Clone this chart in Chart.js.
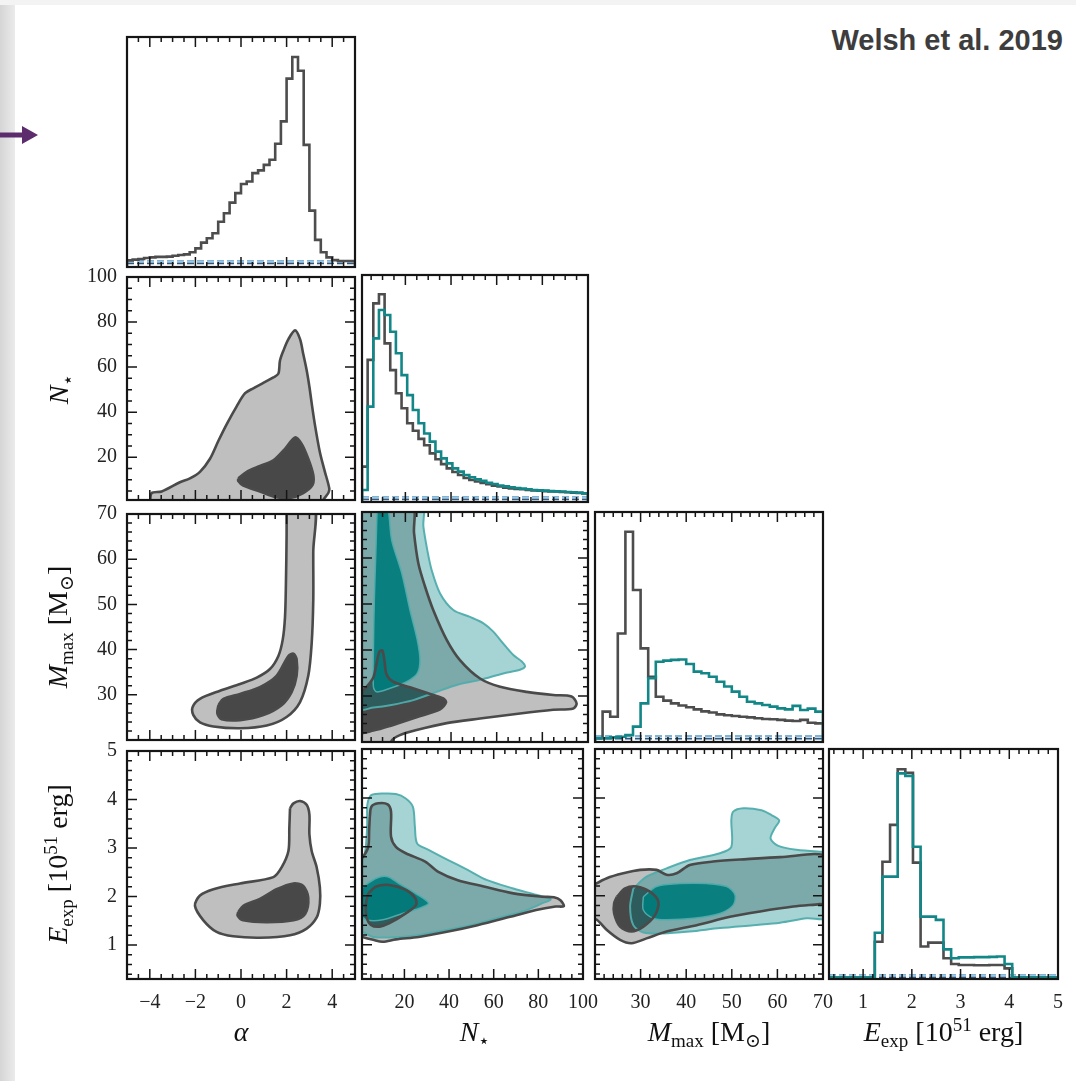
<!DOCTYPE html>
<html>
<head>
<meta charset="utf-8">
<title>Welsh et al. 2019 corner plot</title>
<script src="https://cdn.jsdelivr.net/npm/chart.js@4.4.1/dist/chart.umd.min.js"></script>
<style>
  html, body { margin:0; padding:0; background:#fff; }
  #page { position:relative; width:1076px; height:1081px; overflow:hidden; background:#fff; }
  #stripL { position:absolute; left:0; top:0; width:15px; height:1081px; background:linear-gradient(to right,#d5d5d5,#ebebeb); }
  #stripT { position:absolute; left:0; top:0; width:1076px; height:5px; background:#f3f3f3; }
  canvas { position:absolute; }
  .ttl { position:absolute; font-family:'Liberation Serif','DejaVu Serif',serif; font-size:28px; line-height:36px; height:36px; color:#111; text-align:center; white-space:nowrap; }
  .ttl sub { font-size:0.68em; vertical-align:-0.32em; line-height:0; }
  .ttl sup { font-size:0.68em; vertical-align:0.55em; line-height:0; }
  #credit { position:absolute; right:13px; top:26px; font-family:'Liberation Sans',Arial,sans-serif; font-weight:bold; font-size:29px; line-height:29px; color:#3d3d3d; }
  #arrow { position:absolute; left:0; top:120px; }
</style>
</head>
<body>
<div id="page">
  <div id="stripL"></div>
  <div id="stripT"></div>
  <svg id="arrow" width="45" height="30"><path d="M0 12.5 H22 V6 L38 15 L22 24 V17.5 H0 Z" fill="#5c2c6d"/></svg>
  <div id="credit">Welsh et al. 2019</div>
</div>
<script>
// ---------------- axis ranges and tick labels ----------------
const alphaRange = [-5, 5];
const nstarRange = [1, 100];
const mmaxRange = [20, 70];
const eexpRange = [0.3, 5];
const histRange = [0, 100];

const alphaTicks = [-4, -2, 0, 2, 4];
const nstarTicks = [20, 40, 60, 80, 100];
const mmaxTicks = [30, 40, 50, 60, 70];
const eexpTicks = [1, 2, 3, 4, 5];
const alphaMinorStep = 0.5, nstarMinorStep = 5, mmaxMinorStep = 2, eexpMinorStep = 0.2;

// ---------------- 1D histograms (bin start, bin width, heights in % of panel) ----------------
const alphaBinStart = -5,  alphaBinWidth = 0.25;
const nstarBinStart = 1,   nstarBinWidth = 2.475;
const mmaxBinStart = 20,   mmaxBinWidth = 50 / 30;
const eexpBinStart = 0.3,  eexpBinWidth = 4.7 / 30;

const alphaHistGray = [2.9, 3.2, 3.5, 3.9, 4.2, 4.4, 4.4, 4.5, 4.9, 5.2, 5.5, 6.4, 8.1, 10.6, 12.5, 14.7, 19.7, 23.4, 28.0, 32.1, 36.1, 37.2, 40.8, 42.0, 44.4, 46.6, 53.6, 63.3, 81.9, 91.3, 85.3, 53.1, 24.5, 11.8, 6.4, 4.2, 3.0, 2.6, 2.6, 2.6];

const nstarHistGray = [15.6, 62.6, 87.5, 91.5, 69.9, 58.1, 47.9, 41.3, 34.7, 31.4, 27.8, 25.0, 21.4, 18.8, 16.7, 14.8, 13.2, 11.9, 10.6, 9.7, 9.0, 8.4, 7.8, 7.2, 6.8, 6.3, 6.0, 5.7, 5.6, 5.3, 5.1, 5.0, 4.8, 4.7, 4.6, 4.4, 4.3, 4.1, 4.0, 3.8];
const nstarHistTeal = [5.3, 42.0, 72.1, 84.6, 82.4, 75.0, 65.5, 55.9, 47.1, 40.5, 34.7, 30.2, 26.6, 22.2, 19.2, 17.0, 14.8, 13.4, 11.9, 10.9, 10.0, 9.3, 8.5, 7.9, 7.3, 6.9, 6.5, 6.2, 5.9, 5.6, 5.3, 5.1, 5.0, 4.8, 4.7, 4.6, 4.4, 4.3, 4.1, 3.8];

const mmaxHistGray = [1.6, 13.2, 11.0, 47.2, 91.4, 66.1, 40.7, 28.4, 19.7, 18.0, 16.8, 15.9, 15.1, 14.2, 13.3, 12.8, 12.0, 11.6, 11.3, 11.0, 10.7, 10.3, 10.0, 9.9, 9.6, 9.3, 9.1, 9.6, 8.4, 8.1];
const mmaxHistTeal = [1.6, 1.6, 2.0, 2.3, 3.0, 6.7, 16.8, 27.7, 34.9, 35.4, 35.7, 35.9, 33.9, 30.6, 29.9, 28.4, 26.2, 24.1, 21.9, 19.7, 17.5, 16.8, 16.1, 15.4, 14.6, 14.2, 15.7, 13.9, 14.5, 13.2];

const eexpHistGray = [0.6, 0.6, 0.6, 0.6, 0.6, 0.6, 16.2, 51.0, 67.0, 91.2, 89.7, 50.6, 14.1, 15.8, 15.8, 9.0, 6.5, 6.1, 6.1, 6.0, 6.0, 6.1, 6.1, 4.6, 0.6, 0.6, 0.6, 0.6, 0.6, 0.6];
const eexpHistTeal = [0.6, 0.6, 0.6, 0.6, 0.6, 0.6, 20.1, 44.5, 44.5, 89.4, 88.3, 57.5, 27.1, 27.1, 25.7, 12.9, 9.0, 9.4, 9.4, 9.5, 9.5, 9.6, 9.8, 6.5, 0.6, 0.6, 0.6, 0.6, 0.6, 0.6];

// flat prior levels (dashed lines in the diagonal panels)
const alphaPrior = 1.6, nstarPrior = 1.2, mmaxPrior = 1.5, eexpPrior = 0.7;

// ---------------- 2D credible contours [x, y] ----------------
const alphaNstarGrayOuter = [[-3.99,-1],[-3.92,4.1],[-3.48,4.8],[-2.68,8.9],[-2.24,10.6],[-1.80,13.5],[-1.36,19.3],[-0.99,27.3],[-0.63,34.6],[-0.19,42.6],[0.18,48.4],[0.54,50.6],[0.98,53.0],[1.42,55.4],[1.64,57.1],[1.71,62.9],[1.86,67.3],[2.08,72.4],[2.37,76.3],[2.59,72.4],[2.73,65.8],[2.88,58.6],[3.00,51.3],[3.10,44.0],[3.25,33.9],[3.46,22.2],[3.68,13.5],[3.87,6.2],[3.83,4.1],[3.61,1.1],[3.54,-1]];
const alphaNstarGrayInner = [[-0.12,10.6],[0.25,13.5],[0.83,16.1],[1.42,18.6],[1.93,23.7],[2.37,28.8],[2.66,25.9],[2.95,19.3],[3.17,12.1],[3.14,7.7],[2.73,4.1],[2.15,1.9],[1.56,2.2],[0.83,4.8],[0.10,7.4],[-0.12,9.4]];

const alphaMmaxGrayOuter = [[2.00,72.6],[2.00,65.4],[1.97,54.5],[1.93,47.2],[1.83,42.2],[1.64,38.6],[1.27,35.7],[0.69,33.8],[-0.04,32.4],[-0.92,30.9],[-1.80,29.1],[-2.12,27.3],[-2.09,25.5],[-1.80,23.9],[-1.21,23.0],[-0.04,22.6],[1.13,23.2],[2.00,25.1],[2.59,28.4],[2.95,34.2],[3.10,41.4],[3.17,50.9],[3.17,61.7],[3.20,72.6]];
const alphaMmaxGrayInner = [[-0.99,27.7],[-0.77,29.1],[-0.04,30.2],[0.83,31.7],[1.56,34.2],[2.08,38.6],[2.30,39.1],[2.44,37.8],[2.44,34.2],[2.22,30.6],[1.78,27.7],[0.98,25.5],[-0.04,24.4],[-0.85,24.6],[-1.04,25.9]];

const alphaEexpGrayOuter = [[2.15,3.82],[2.30,3.92],[2.59,3.97],[2.88,3.89],[3.00,3.69],[3.00,3.28],[3.10,2.94],[3.32,2.60],[3.46,2.19],[3.46,1.85],[3.32,1.57],[2.88,1.34],[2.15,1.20],[0.83,1.15],[-0.34,1.18],[-1.07,1.27],[-1.65,1.51],[-2.02,1.81],[-1.80,2.02],[-1.21,2.15],[-0.04,2.27],[1.42,2.40],[1.78,2.60],[2.08,2.94],[2.12,3.41]];
const alphaEexpGrayInner = [[-0.12,1.68],[0.10,1.81],[0.83,1.95],[1.56,2.15],[2.30,2.27],[2.73,2.22],[2.95,1.98],[2.81,1.64],[2.30,1.51],[1.13,1.47],[0.10,1.51],[-0.15,1.61]];

const nstarMmaxGrayOuter = [[0,72],[22.8,72],[23.8,65.4],[25.7,58.8],[28.6,53.8],[32.2,48.7],[38.1,42.2],[43.9,37.8],[52.7,33.8],[61.5,32.0],[73.1,30.9],[84.8,30.2],[92.8,29.9],[95.0,28.4],[93.6,27.3],[84.8,27.0],[70.2,26.2],[52.7,25.1],[38.1,24.1],[24.9,22.6],[17.6,21.5],[14.0,20.3],[13.3,18],[0,18]];
const nstarMmaxGrayInner = [[0,30.6],[3.0,32.0],[6.0,34.1],[7.4,37.1],[8.6,39.6],[9.9,39.9],[10.8,37.8],[11.8,34.6],[14.7,33.1],[22.0,31.9],[29.3,30.7],[36.6,29.5],[37.8,28.6],[35.2,27.1],[24.9,25.4],[13.3,23.5],[6.0,22.5],[0,22.2]];
const nstarMmaxTealOuter = [[0,72],[27.1,72],[27.9,66.8],[29.6,61.7],[31.5,57.4],[35.2,52.3],[41.0,48.7],[48.3,47.2],[54.2,45.8],[58.5,44.0],[62.9,41.4],[67.3,38.9],[71.0,37.5],[72.4,36.4],[70.2,35.7],[62.9,34.9],[52.7,33.5],[42.5,32.4],[33.7,30.9],[23.5,29.1],[13.3,28.0],[6.0,27.5],[0,27.3]];
const nstarMmaxTealInner = [[7.7,72],[11.8,72],[14.0,63.9],[18.4,56.7],[22.0,48.7],[25.2,42.2],[26.4,37.8],[25.2,34.9],[20.6,33.1],[13.3,31.7],[7.4,30.9],[6.0,32.0],[6.0,40.0],[6.4,50.9],[7.1,61.7]];

const nstarEexpGrayOuter = [[4.5,3.62],[5.2,3.82],[8.2,3.89],[12.5,3.87],[14.0,3.72],[14.0,3.21],[16.2,3.00],[20.6,2.87],[29.3,2.70],[35.2,2.49],[43.9,2.32],[55.6,2.19],[68.8,2.05],[81.9,1.98],[87.0,1.97],[89.9,1.91],[91.4,1.79],[87.7,1.78],[79.0,1.71],[67.3,1.57],[52.7,1.40],[39.6,1.27],[26.4,1.16],[16.2,1.11],[10.3,1.06],[6.0,1.10],[1.0,1.16],[0,1.18],[0,2.73],[1.6,2.80],[3.8,3.00],[4.2,3.34]];
const nstarEexpGrayInner = [[3.8,2.05],[7.4,2.19],[13.3,2.22],[20.6,2.12],[24.9,1.95],[25.2,1.81],[20.6,1.64],[13.3,1.44],[8.9,1.37],[5.2,1.40],[3.0,1.57],[2.8,1.85]];
const nstarEexpTealOuter = [[3.8,3.96],[5.2,4.06],[10.3,4.09],[16.2,4.08],[20.6,3.99],[23.8,3.82],[24.7,3.41],[25.7,3.07],[30.8,2.94],[39.6,2.73],[48.3,2.53],[57.1,2.32],[68.8,2.15],[79.0,2.02],[85.5,1.93],[81.9,1.85],[73.1,1.68],[61.5,1.54],[49.8,1.40],[35.2,1.27],[23.5,1.18],[13.3,1.15],[6.0,1.16],[1.0,1.27],[0,1.3],[0,2.6],[2.3,2.87],[3.3,3.41],[3.3,3.82]];
const nstarEexpTealInner = [[1.6,2.19],[7.4,2.36],[12.5,2.39],[17.6,2.25],[24.9,2.05],[30.8,1.85],[26.4,1.74],[19.1,1.64],[10.3,1.51],[3.0,1.51],[0,1.64],[0,2.12]];

const mmaxEexpGrayOuter = [[19,2.19],[22.6,2.36],[26.2,2.46],[29.9,2.53],[33.5,2.53],[35.7,2.43],[37.9,2.46],[40.8,2.63],[45.9,2.70],[53.3,2.75],[60.6,2.79],[71,2.79],[71,1.85],[69.3,1.83],[63.5,1.78],[56.2,1.68],[49.6,1.57],[42.3,1.40],[35.7,1.27],[31.3,1.13],[28.0,1.03],[25.5,1.10],[22.6,1.30],[20.4,1.51],[19,1.54]];
const mmaxEexpGrayInner = [[24.8,1.98],[26.6,2.15],[29.1,2.19],[32.1,2.08],[33.9,1.88],[33.2,1.61],[30.6,1.37],[28.0,1.27],[25.5,1.37],[24.2,1.64],[24.2,1.85]];
const mmaxEexpTealOuter = [[28.4,2.15],[31.3,2.39],[35.7,2.56],[40.8,2.73],[47.4,2.87],[49.9,3.00],[49.9,3.55],[50.3,3.72],[52.5,3.79],[56.5,3.75],[58.7,3.65],[60.4,3.54],[59.4,3.38],[58.5,3.17],[60.2,3.02],[64.2,2.94],[69.7,2.90],[71,2.90],[71,1.57],[66.4,1.54],[60.6,1.45],[54.7,1.40],[47.4,1.34],[40.8,1.27],[34.9,1.23],[30.6,1.25],[28.4,1.40],[27.7,1.78]];
const mmaxEexpTealInner = [[30.6,1.98],[33.5,2.19],[38.6,2.25],[44.5,2.25],[48.9,2.19],[50.7,2.02],[50.3,1.81],[47.4,1.64],[41.6,1.54],[35.7,1.51],[32.8,1.54],[30.6,1.71]];

// ---------------- axis titles (HTML, real text) ----------------
const alphaTitle = '<i>α</i>';
const nstarTitle = '<i>N</i><sub>⋆</sub>';
const mmaxTitle = '<i>M</i><sub>max</sub>&nbsp;[M<sub>⊙</sub>]';
const eexpTitle = '<i>E</i><sub>exp</sub>&nbsp;[10<sup>51</sup>&nbsp;erg]';

// ---------------- layout / style ----------------
const colLeft = [127, 362, 595, 829];
const colWidth = [228, 226, 228, 229];
const rowTop = [37, 275, 512, 749];
const rowHeight = [230, 227, 230, 230];

const GRAY_OUT = '#bfbfbf', GRAY_IN = '#484848', GRAY_LINE = '#4a4a4a';
const TEAL_OUT = 'rgba(0,128,128,0.35)', TEAL_IN = 'rgba(0,124,124,0.93)', TEAL_LINE = 'rgba(80,172,172,0.95)';
const HIST_GRAY = '#4d4d4d', HIST_TEAL = '#138787';
const TICK_FONT = {family: "'Liberation Serif','DejaVu Serif',serif", size: 20};

const params = {
  alpha: {range: alphaRange, ticks: alphaTicks, minor: alphaMinorStep, title: alphaTitle},
  nstar: {range: nstarRange, ticks: nstarTicks, minor: nstarMinorStep, title: nstarTitle},
  mmax:  {range: mmaxRange,  ticks: mmaxTicks,  minor: mmaxMinorStep,  title: mmaxTitle},
  eexp:  {range: eexpRange,  ticks: eexpTicks,  minor: eexpMinorStep,  title: eexpTitle}
};
const paramOrder = ['alpha', 'nstar', 'mmax', 'eexp'];

const page = document.getElementById('page');

function fmtTick(v) { return v < 0 ? '\u2212' + Math.abs(v) : String(v); }

function minorValues(range, step) {
  const out = [];
  const k0 = Math.ceil(range[0] / step - 1e-9), k1 = Math.floor(range[1] / step + 1e-9);
  for (let k = k0; k <= k1; k++) out.push(+(k * step).toFixed(6));
  return out;
}

function frameTicksPlugin(xp, yp) {
  return {
    id: 'frameTicks',
    afterDatasetsDraw(chart) {
      const {ctx, chartArea: a, scales} = chart;
      const xs = scales.x, ys = scales.y;
      ctx.save();
      ctx.strokeStyle = '#151515';
      ctx.lineWidth = 1.5;
      ctx.beginPath();
      const xTick = (v, len) => {
        const px = xs.getPixelForValue(v);
        ctx.moveTo(px, a.bottom); ctx.lineTo(px, a.bottom - len);
        ctx.moveTo(px, a.top); ctx.lineTo(px, a.top + len);
      };
      const yTick = (v, len) => {
        const py = ys.getPixelForValue(v);
        ctx.moveTo(a.left, py); ctx.lineTo(a.left + len, py);
        ctx.moveTo(a.right, py); ctx.lineTo(a.right - len, py);
      };
      minorValues(xp.range, xp.minor).forEach(v => xTick(v, 5));
      xp.ticks.forEach(v => xTick(v, 10));
      if (yp) {
        minorValues(yp.range, yp.minor).forEach(v => yTick(v, 5));
        yp.ticks.forEach(v => yTick(v, 10));
      }
      ctx.stroke();
      ctx.lineWidth = 2.2;
      ctx.strokeRect(a.left, a.top, a.right - a.left, a.bottom - a.top);
      ctx.restore();
    }
  };
}

function toPts(pairs) {
  const pts = pairs.map(([x, y]) => ({x, y}));
  pts.push({x: pairs[0][0], y: pairs[0][1]});
  return pts;
}

function contourSets(pairs, fillColor, lineColor, lineWidth, fillOrder, lineOrder) {
  const common = {pointRadius: 0, tension: 0.3, capBezierPoints: false, clip: 0};
  return [
    Object.assign({data: toPts(pairs), fill: 'shape', backgroundColor: fillColor, borderColor: 'rgba(0,0,0,0)', borderWidth: 0, order: fillOrder}, common),
    Object.assign({data: toPts(pairs), fill: false, borderColor: lineColor, borderWidth: lineWidth, order: lineOrder}, common)
  ];
}

function histSet(start, width, counts, color, order) {
  const pts = [{x: start, y: 0}];
  counts.forEach((c, i) => pts.push({x: start + i * width, y: c}));
  pts.push({x: start + counts.length * width, y: 0});
  return {data: pts, stepped: 'before', fill: false, borderColor: color, borderWidth: 2.6, pointRadius: 0, tension: 0, clip: 0, order};
}

function priorSets(range, level) {
  return [
    {data: [{x: range[0], y: level + 1.1}, {x: range[1], y: level + 1.1}], fill: false, borderColor: 'rgba(125,180,215,1)', borderWidth: 1.8, borderDash: [7, 3], pointRadius: 0, clip: 0, order: 8},
    {data: [{x: range[0], y: level}, {x: range[1], y: level}], fill: false, borderColor: '#2d5a82', borderWidth: 1.8, borderDash: [7, 3], pointRadius: 0, clip: 0, order: 7}
  ];
}

const panels = [
  {r: 0, c: 0, x: 'alpha', hist: [[alphaBinStart, alphaBinWidth, alphaHistGray, HIST_GRAY]], prior: alphaPrior},
  {r: 1, c: 0, x: 'alpha', y: 'nstar', gray: [alphaNstarGrayOuter, alphaNstarGrayInner]},
  {r: 1, c: 1, x: 'nstar', hist: [[nstarBinStart, nstarBinWidth, nstarHistGray, HIST_GRAY], [nstarBinStart, nstarBinWidth, nstarHistTeal, HIST_TEAL]], prior: nstarPrior},
  {r: 2, c: 0, x: 'alpha', y: 'mmax', gray: [alphaMmaxGrayOuter, alphaMmaxGrayInner]},
  {r: 2, c: 1, x: 'nstar', y: 'mmax', gray: [nstarMmaxGrayOuter, nstarMmaxGrayInner], teal: [nstarMmaxTealOuter, nstarMmaxTealInner]},
  {r: 2, c: 2, x: 'mmax', hist: [[mmaxBinStart, mmaxBinWidth, mmaxHistGray, HIST_GRAY], [mmaxBinStart, mmaxBinWidth, mmaxHistTeal, HIST_TEAL]], prior: mmaxPrior},
  {r: 3, c: 0, x: 'alpha', y: 'eexp', gray: [alphaEexpGrayOuter, alphaEexpGrayInner]},
  {r: 3, c: 1, x: 'nstar', y: 'eexp', gray: [nstarEexpGrayOuter, nstarEexpGrayInner], teal: [nstarEexpTealOuter, nstarEexpTealInner]},
  {r: 3, c: 2, x: 'mmax', y: 'eexp', gray: [mmaxEexpGrayOuter, mmaxEexpGrayInner], teal: [mmaxEexpTealOuter, mmaxEexpTealInner]},
  {r: 3, c: 3, x: 'eexp', hist: [[eexpBinStart, eexpBinWidth, eexpHistGray, HIST_GRAY], [eexpBinStart, eexpBinWidth, eexpHistTeal, HIST_TEAL]], prior: eexpPrior}
];

panels.forEach(p => {
  const showY = p.c === 0 && p.r > 0;
  const showX = p.r === 3;
  const L = showY ? 62 : 20, R = 22, T = 20, B = showX ? 45 : 20;
  const cv = document.createElement('canvas');
  cv.width = colWidth[p.c] + L + R;
  cv.height = rowHeight[p.r] + T + B;
  cv.style.left = (colLeft[p.c] - L) + 'px';
  cv.style.top = (rowTop[p.r] - T) + 'px';
  page.appendChild(cv);

  const xp = params[p.x];
  const yp = p.y ? params[p.y] : null;
  const yRange = yp ? yp.range : histRange;

  let datasets = [];
  if (p.hist) {
    p.hist.forEach((h, i) => datasets.push(histSet(h[0], h[1], h[2], h[3], 3 - i)));
    datasets = datasets.concat(priorSets(xp.range, p.prior));
  } else {
    datasets = datasets.concat(contourSets(p.gray[0], GRAY_OUT, GRAY_LINE, 2.6, 20, 4));
    datasets = datasets.concat(contourSets(p.gray[1], GRAY_IN, GRAY_LINE, 2.6, 19, 3));
    if (p.teal) {
      datasets = datasets.concat(contourSets(p.teal[0], TEAL_OUT, TEAL_LINE, 2, 18, 6));
      datasets = datasets.concat(contourSets(p.teal[1], TEAL_IN, TEAL_LINE, 1.5, 17, 5));
    }
  }

  new Chart(cv, {
    type: 'line',
    data: {datasets},
    options: {
      responsive: false, animation: false, devicePixelRatio: 1, events: [],
      layout: {padding: {left: showY ? 0 : L, right: R, top: T, bottom: showX ? 0 : B}},
      plugins: {legend: {display: false}, tooltip: {enabled: false}},
      elements: {point: {radius: 0}},
      scales: {
        x: {
          type: 'linear', min: xp.range[0], max: xp.range[1], display: showX, position: 'bottom',
          grid: {display: false, drawTicks: false}, border: {display: false},
          ticks: {font: TICK_FONT, color: '#222', padding: 12, maxRotation: 0, autoSkip: false, callback: v => fmtTick(v)},
          afterBuildTicks: s => { s.ticks = xp.ticks.map(v => ({value: v})); },
          afterFit: s => { if (showX) s.height = B; }
        },
        y: {
          type: 'linear', min: yRange[0], max: yRange[1], display: showY, position: 'left',
          grid: {display: false, drawTicks: false}, border: {display: false},
          ticks: {font: TICK_FONT, color: '#222', padding: 10, autoSkip: false, callback: v => fmtTick(v)},
          afterBuildTicks: s => { if (yp) s.ticks = yp.ticks.map(v => ({value: v})); },
          afterFit: s => { if (showY) s.width = L; }
        }
      }
    },
    plugins: [frameTicksPlugin(xp, yp)]
  });
});

// axis titles
paramOrder.forEach((key, c) => {
  const d = document.createElement('div');
  d.className = 'ttl';
  d.style.left = colLeft[c] + 'px';
  d.style.width = colWidth[c] + 'px';
  d.style.top = '1014px';
  d.innerHTML = params[key].title;
  page.appendChild(d);
});
paramOrder.slice(1).forEach((key, i) => {
  const r = i + 1;
  const d = document.createElement('div');
  d.className = 'ttl';
  d.style.width = rowHeight[r] + 'px';
  d.style.left = (58 - rowHeight[r] / 2) + 'px';
  d.style.top = (rowTop[r] + rowHeight[r] / 2 - 18) + 'px';
  d.style.transform = 'rotate(-90deg)';
  d.innerHTML = params[key].title;
  page.appendChild(d);
});
</script>
</body>
</html>
